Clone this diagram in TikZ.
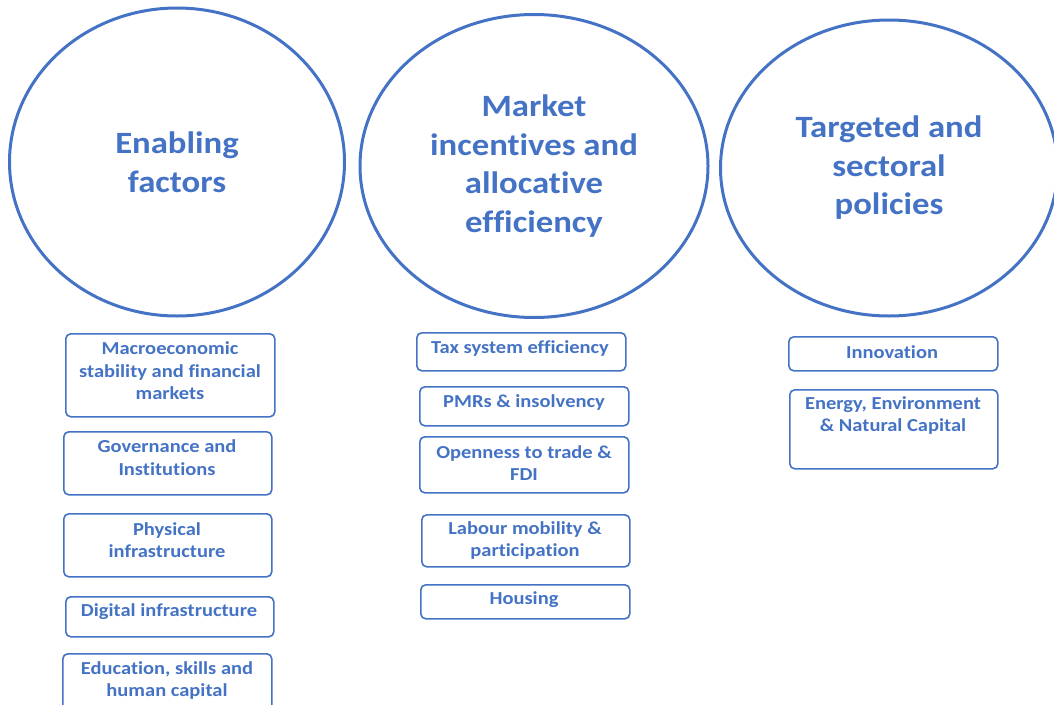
\documentclass[tikz,border=0pt]{standalone}
\usepackage{fontspec}
\setmainfont{Carlito}[FakeStretch=1.12, Ligatures=NoCommon]
\usetikzlibrary{shapes.geometric}
\definecolor{blu}{HTML}{4472C4}
\begin{document}
\begin{tikzpicture}[x=1pt,y=-1pt,
  circ/.style={ellipse, draw=blu, line width=3pt, inner sep=0pt, text=blu,
    font=\fontsize{31}{38.5}\selectfont\bfseries, align=center},
  box/.style={draw=blu, line width=1.6pt, rounded corners=5pt, anchor=north west, inner sep=0pt},
  btext/.style={text=blu, font=\fontsize{18.3}{22.5}\selectfont\bfseries, align=center, inner sep=0pt}]
\useasboundingbox (0,0) rectangle (1054,704);
\clip (0,0) rectangle (1054,704);
% ellipses
\node[circ, minimum width=335pt, minimum height=308pt] (e1) at (177,162) {Enabling\\factors};
\node[circ, minimum width=348pt, minimum height=303pt] (e2) at (534,166) {Market\\incentives and\\allocative\\efficiency};
\node[circ, minimum width=337pt, minimum height=296pt] (e3) at (889,168) {Targeted and\\sectoral\\policies};
% left column
\node[box, minimum width=209pt, minimum height=83pt] (l1) at (65,333) {};
\node[btext] (l1t) at (170,371) {Macroeconomic\\stability and financial\\markets};
\node[box, minimum width=208pt, minimum height=63pt] (l2) at (63,431) {};
\node[btext] (l2t) at (167,457.5) {Governance and\\Institutions};
\node[box, minimum width=208pt, minimum height=63pt] (l3) at (63,513) {};
\node[btext] (l3t) at (167,540) {Physical\\infrastructure};
\node[box, minimum width=208pt, minimum height=40pt] (l4) at (65,596) {};
\node[btext] (l4t) at (169,612) {Digital infrastructure};
\node[box, minimum width=209pt, minimum height=62pt] (l5) at (62,653) {};
\node[btext] (l5t) at (167,680.5) {Education, skills and\\human capital};
% middle column
\node[box, minimum width=209pt, minimum height=38pt] (m1) at (416,332) {};
\node[btext] (m1t) at (520,349) {Tax system efficiency};
\node[box, minimum width=209pt, minimum height=39pt] (m2) at (419,386) {};
\node[btext] (m2t) at (524,403) {PMRs \& insolvency};
\node[box, minimum width=209pt, minimum height=56pt] (m3) at (419,436) {};
\node[btext] (m3t) at (524,463) {Openness to trade \&\\FDI};
\node[box, minimum width=208pt, minimum height=52pt] (m4) at (421,514) {};
\node[btext] (m4t) at (525,540.5) {Labour mobility \&\\participation};
\node[box, minimum width=209pt, minimum height=34pt] (m5) at (420,584) {};
\node[btext] (m5t) at (524,600) {Housing};
% right column
\node[box, minimum width=209pt, minimum height=34pt] (r1) at (788,336) {};
\node[btext] (r1t) at (892,352) {Innovation};
\node[box, minimum width=208pt, minimum height=79pt] (r2) at (789,389) {};
\node[btext] (r2t) at (893,415.5) {Energy, Environment\\\& Natural Capital};
\end{tikzpicture}
\end{document}
